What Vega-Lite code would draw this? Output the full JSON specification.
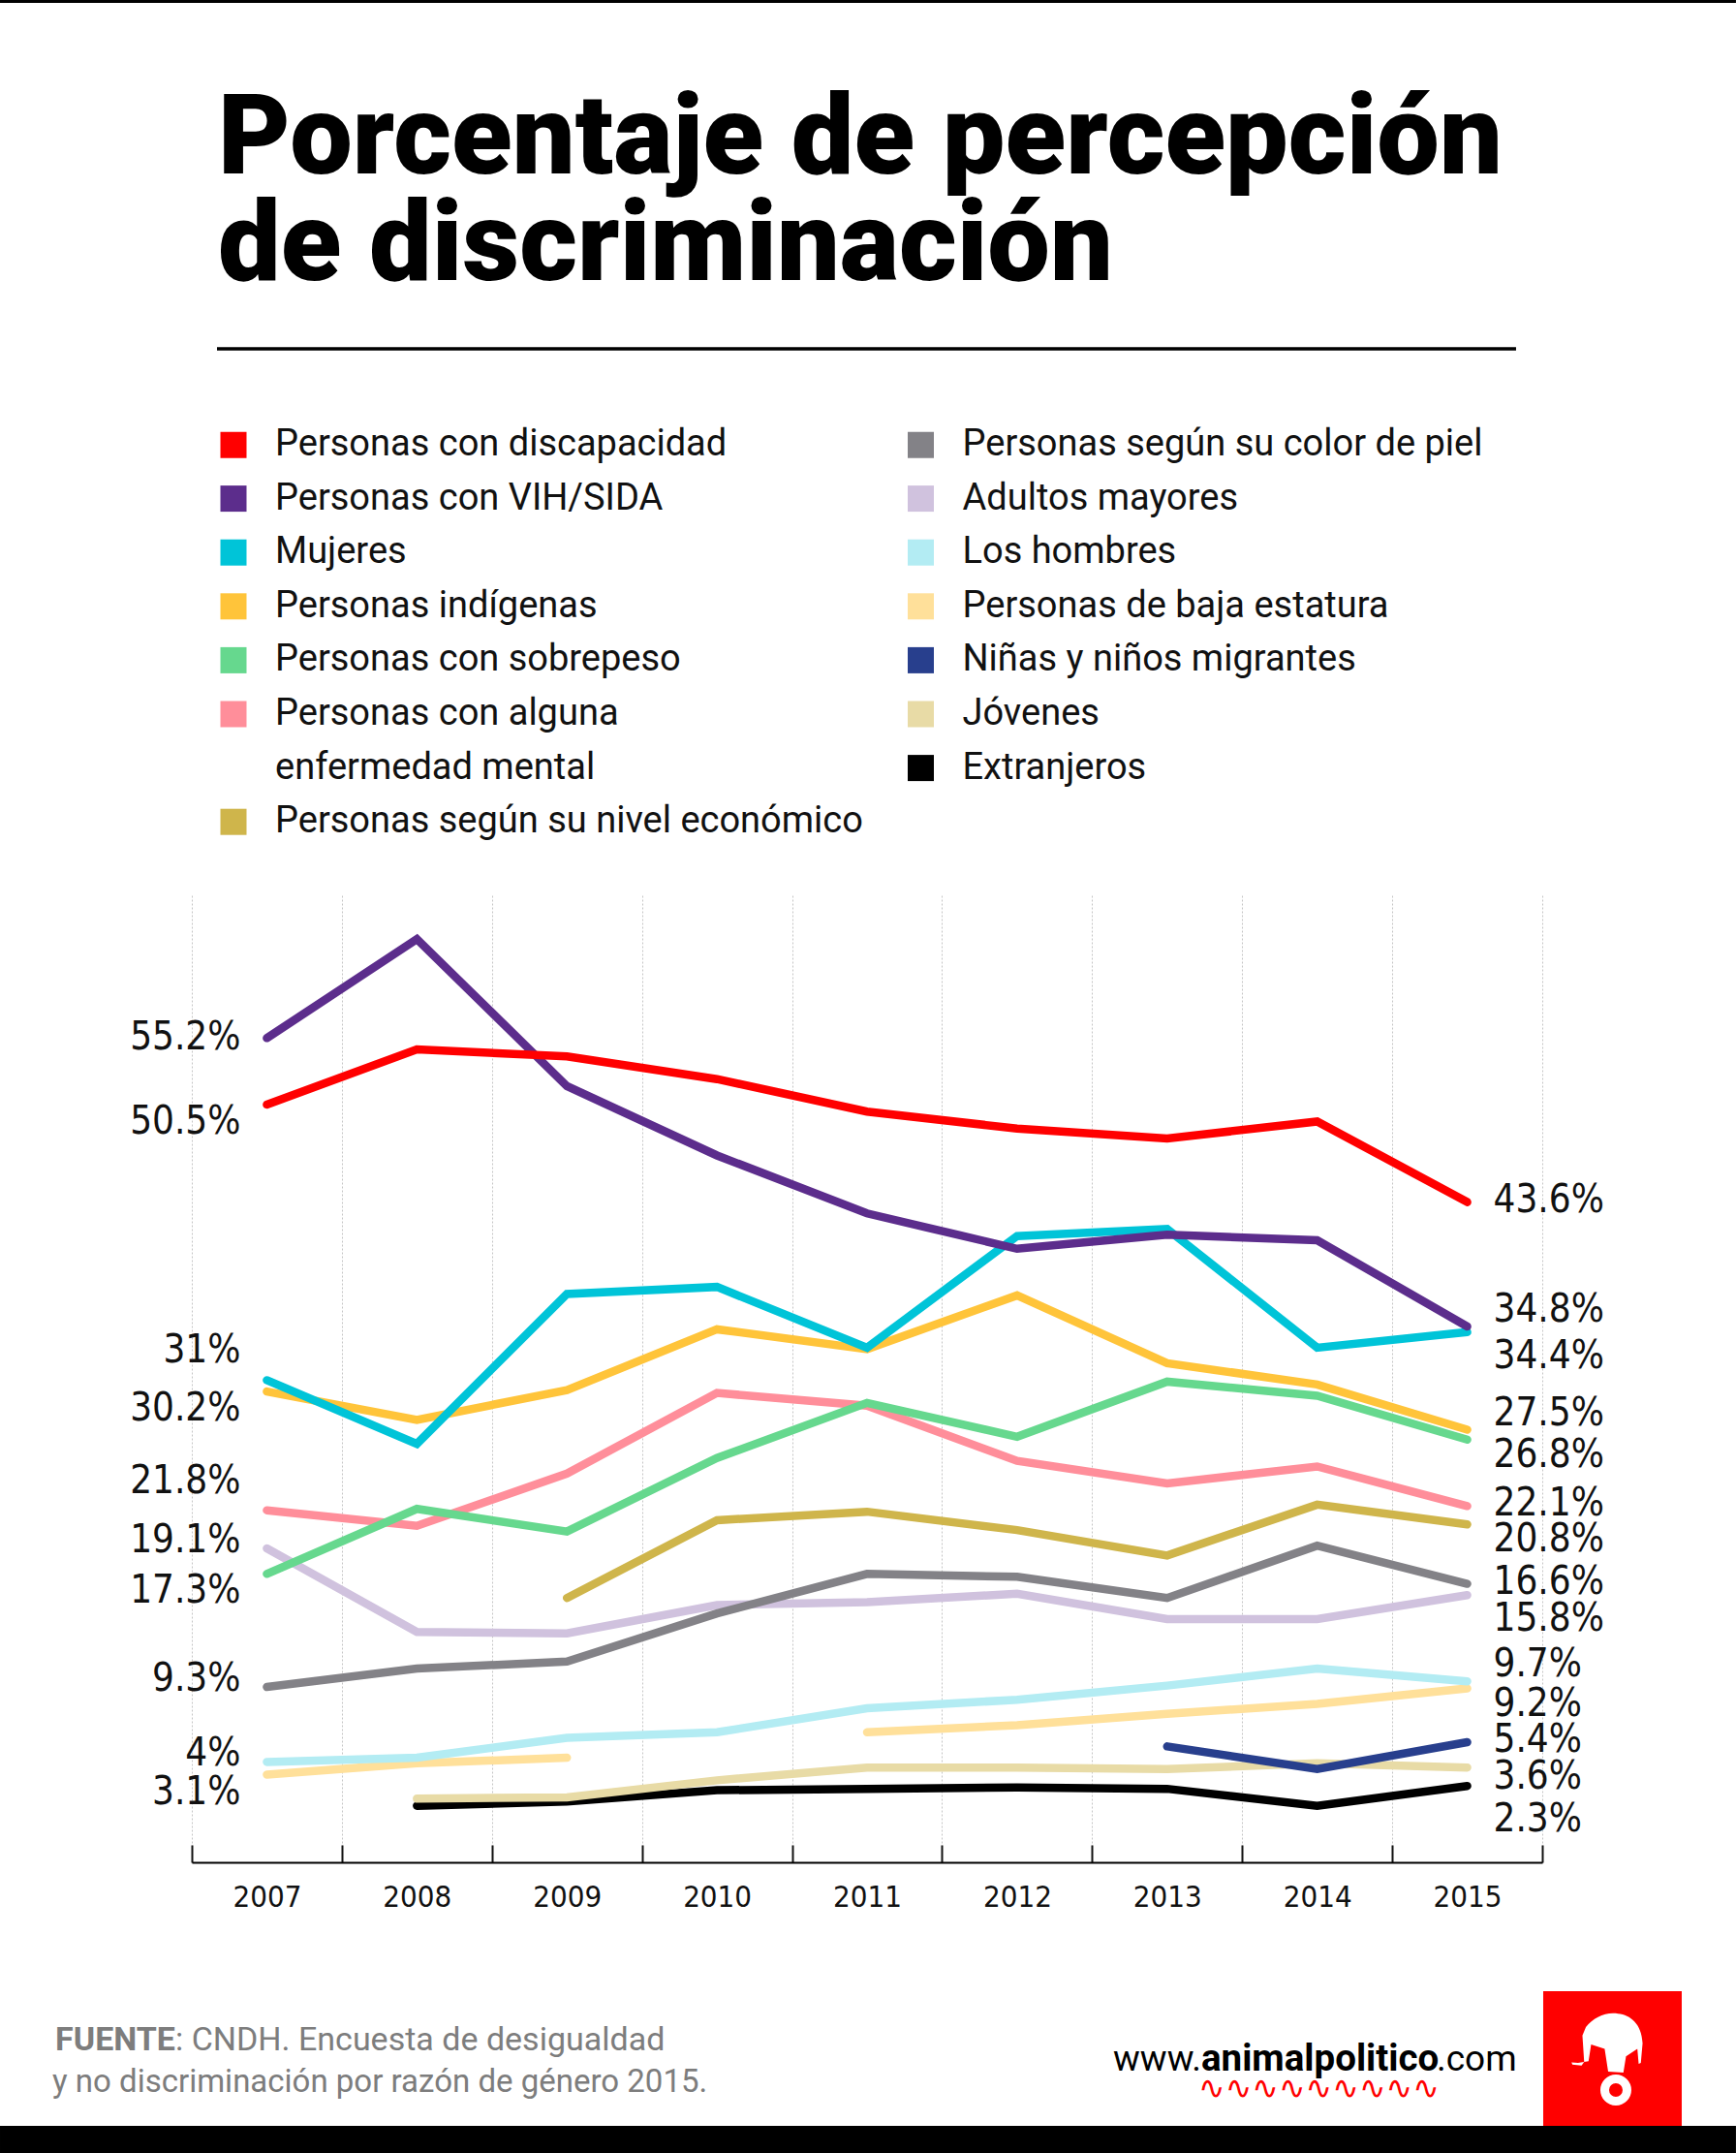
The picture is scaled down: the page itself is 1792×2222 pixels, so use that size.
{
  "$schema": "https://vega.github.io/schema/vega-lite/v6.json",
  "width": 1394,
  "height": 998,
  "autosize": "none",
  "padding": {"left": 198, "top": 924, "right": 200, "bottom": 300},
  "background": "#ffffff",
  "title": {
    "text": ["Porcentaje de percepción", "de discriminación"],
    "anchor": "start",
    "frame": "group",
    "orient": "top",
    "baseline": "top",
    "font": "Roboto",
    "fontSize": 115,
    "fontWeight": 900,
    "color": "#000000",
    "lineHeight": 110,
    "offset": -313,
    "dx": 27
  },
  "datasets": {
    "encuesta": [
      {"serie": "Extranjeros", "anio": 2008, "valor": 0.9},
      {"serie": "Extranjeros", "anio": 2009, "valor": 1.2},
      {"serie": "Extranjeros", "anio": 2010, "valor": 2.0},
      {"serie": "Extranjeros", "anio": 2011, "valor": 2.1},
      {"serie": "Extranjeros", "anio": 2012, "valor": 2.2},
      {"serie": "Extranjeros", "anio": 2013, "valor": 2.1},
      {"serie": "Extranjeros", "anio": 2014, "valor": 0.9},
      {"serie": "Extranjeros", "anio": 2015, "valor": 2.3},
      {"serie": "Jóvenes", "anio": 2008, "valor": 1.4},
      {"serie": "Jóvenes", "anio": 2009, "valor": 1.5},
      {"serie": "Jóvenes", "anio": 2010, "valor": 2.7},
      {"serie": "Jóvenes", "anio": 2011, "valor": 3.6},
      {"serie": "Jóvenes", "anio": 2012, "valor": 3.6},
      {"serie": "Jóvenes", "anio": 2013, "valor": 3.5},
      {"serie": "Jóvenes", "anio": 2014, "valor": 3.9},
      {"serie": "Jóvenes", "anio": 2015, "valor": 3.6},
      {"serie": "Niñas y niños migrantes", "anio": 2013, "valor": 5.1},
      {"serie": "Niñas y niños migrantes", "anio": 2014, "valor": 3.5},
      {"serie": "Niñas y niños migrantes", "anio": 2015, "valor": 5.4},
      {"serie": "Personas de baja estatura", "anio": 2007, "valor": 3.1, "tramo": 1},
      {"serie": "Personas de baja estatura", "anio": 2008, "valor": 3.9, "tramo": 1},
      {"serie": "Personas de baja estatura", "anio": 2009, "valor": 4.3, "tramo": 1},
      {"serie": "Personas de baja estatura", "anio": 2011, "valor": 6.1, "tramo": 2},
      {"serie": "Personas de baja estatura", "anio": 2012, "valor": 6.6, "tramo": 2},
      {"serie": "Personas de baja estatura", "anio": 2013, "valor": 7.4, "tramo": 2},
      {"serie": "Personas de baja estatura", "anio": 2014, "valor": 8.1, "tramo": 2},
      {"serie": "Personas de baja estatura", "anio": 2015, "valor": 9.2, "tramo": 2},
      {"serie": "Los hombres", "anio": 2007, "valor": 4.0},
      {"serie": "Los hombres", "anio": 2008, "valor": 4.3},
      {"serie": "Los hombres", "anio": 2009, "valor": 5.7},
      {"serie": "Los hombres", "anio": 2010, "valor": 6.1},
      {"serie": "Los hombres", "anio": 2011, "valor": 7.8},
      {"serie": "Los hombres", "anio": 2012, "valor": 8.4},
      {"serie": "Los hombres", "anio": 2013, "valor": 9.4},
      {"serie": "Los hombres", "anio": 2014, "valor": 10.6},
      {"serie": "Los hombres", "anio": 2015, "valor": 9.7},
      {"serie": "Adultos mayores", "anio": 2007, "valor": 19.1},
      {"serie": "Adultos mayores", "anio": 2008, "valor": 13.2},
      {"serie": "Adultos mayores", "anio": 2009, "valor": 13.1},
      {"serie": "Adultos mayores", "anio": 2010, "valor": 15.1},
      {"serie": "Adultos mayores", "anio": 2011, "valor": 15.3},
      {"serie": "Adultos mayores", "anio": 2012, "valor": 15.9},
      {"serie": "Adultos mayores", "anio": 2013, "valor": 14.1},
      {"serie": "Adultos mayores", "anio": 2014, "valor": 14.1},
      {"serie": "Adultos mayores", "anio": 2015, "valor": 15.8},
      {"serie": "Personas según su color de piel", "anio": 2007, "valor": 9.3},
      {"serie": "Personas según su color de piel", "anio": 2008, "valor": 10.6},
      {"serie": "Personas según su color de piel", "anio": 2009, "valor": 11.1},
      {"serie": "Personas según su color de piel", "anio": 2010, "valor": 14.5},
      {"serie": "Personas según su color de piel", "anio": 2011, "valor": 17.3},
      {"serie": "Personas según su color de piel", "anio": 2012, "valor": 17.1},
      {"serie": "Personas según su color de piel", "anio": 2013, "valor": 15.6},
      {"serie": "Personas según su color de piel", "anio": 2014, "valor": 19.3},
      {"serie": "Personas según su color de piel", "anio": 2015, "valor": 16.6},
      {"serie": "Personas según su nivel económico", "anio": 2009, "valor": 15.6},
      {"serie": "Personas según su nivel económico", "anio": 2010, "valor": 21.1},
      {"serie": "Personas según su nivel económico", "anio": 2011, "valor": 21.7},
      {"serie": "Personas según su nivel económico", "anio": 2012, "valor": 20.4},
      {"serie": "Personas según su nivel económico", "anio": 2013, "valor": 18.6},
      {"serie": "Personas según su nivel económico", "anio": 2014, "valor": 22.2},
      {"serie": "Personas según su nivel económico", "anio": 2015, "valor": 20.8},
      {"serie": "Personas con alguna enfermedad mental", "anio": 2007, "valor": 21.8},
      {"serie": "Personas con alguna enfermedad mental", "anio": 2008, "valor": 20.7},
      {"serie": "Personas con alguna enfermedad mental", "anio": 2009, "valor": 24.4},
      {"serie": "Personas con alguna enfermedad mental", "anio": 2010, "valor": 30.1},
      {"serie": "Personas con alguna enfermedad mental", "anio": 2011, "valor": 29.2},
      {"serie": "Personas con alguna enfermedad mental", "anio": 2012, "valor": 25.3},
      {"serie": "Personas con alguna enfermedad mental", "anio": 2013, "valor": 23.7},
      {"serie": "Personas con alguna enfermedad mental", "anio": 2014, "valor": 24.9},
      {"serie": "Personas con alguna enfermedad mental", "anio": 2015, "valor": 22.1},
      {"serie": "Personas con sobrepeso", "anio": 2007, "valor": 17.3},
      {"serie": "Personas con sobrepeso", "anio": 2008, "valor": 21.9},
      {"serie": "Personas con sobrepeso", "anio": 2009, "valor": 20.3},
      {"serie": "Personas con sobrepeso", "anio": 2010, "valor": 25.5},
      {"serie": "Personas con sobrepeso", "anio": 2011, "valor": 29.4},
      {"serie": "Personas con sobrepeso", "anio": 2012, "valor": 27.0},
      {"serie": "Personas con sobrepeso", "anio": 2013, "valor": 30.9},
      {"serie": "Personas con sobrepeso", "anio": 2014, "valor": 29.9},
      {"serie": "Personas con sobrepeso", "anio": 2015, "valor": 26.8},
      {"serie": "Personas indígenas", "anio": 2007, "valor": 30.2},
      {"serie": "Personas indígenas", "anio": 2008, "valor": 28.2},
      {"serie": "Personas indígenas", "anio": 2009, "valor": 30.3},
      {"serie": "Personas indígenas", "anio": 2010, "valor": 34.6},
      {"serie": "Personas indígenas", "anio": 2011, "valor": 33.2},
      {"serie": "Personas indígenas", "anio": 2012, "valor": 37.0},
      {"serie": "Personas indígenas", "anio": 2013, "valor": 32.2},
      {"serie": "Personas indígenas", "anio": 2014, "valor": 30.7},
      {"serie": "Personas indígenas", "anio": 2015, "valor": 27.5},
      {"serie": "Mujeres", "anio": 2007, "valor": 31},
      {"serie": "Mujeres", "anio": 2008, "valor": 26.5},
      {"serie": "Mujeres", "anio": 2009, "valor": 37.1},
      {"serie": "Mujeres", "anio": 2010, "valor": 37.6},
      {"serie": "Mujeres", "anio": 2011, "valor": 33.3},
      {"serie": "Mujeres", "anio": 2012, "valor": 41.2},
      {"serie": "Mujeres", "anio": 2013, "valor": 41.7},
      {"serie": "Mujeres", "anio": 2014, "valor": 33.3},
      {"serie": "Mujeres", "anio": 2015, "valor": 34.4},
      {"serie": "Personas con VIH/SIDA", "anio": 2007, "valor": 55.2},
      {"serie": "Personas con VIH/SIDA", "anio": 2008, "valor": 62.2},
      {"serie": "Personas con VIH/SIDA", "anio": 2009, "valor": 51.8},
      {"serie": "Personas con VIH/SIDA", "anio": 2010, "valor": 46.9},
      {"serie": "Personas con VIH/SIDA", "anio": 2011, "valor": 42.8},
      {"serie": "Personas con VIH/SIDA", "anio": 2012, "valor": 40.3},
      {"serie": "Personas con VIH/SIDA", "anio": 2013, "valor": 41.3},
      {"serie": "Personas con VIH/SIDA", "anio": 2014, "valor": 40.9},
      {"serie": "Personas con VIH/SIDA", "anio": 2015, "valor": 34.8},
      {"serie": "Personas con discapacidad", "anio": 2007, "valor": 50.5},
      {"serie": "Personas con discapacidad", "anio": 2008, "valor": 54.4},
      {"serie": "Personas con discapacidad", "anio": 2009, "valor": 53.9},
      {"serie": "Personas con discapacidad", "anio": 2010, "valor": 52.3},
      {"serie": "Personas con discapacidad", "anio": 2011, "valor": 50.0},
      {"serie": "Personas con discapacidad", "anio": 2012, "valor": 48.8},
      {"serie": "Personas con discapacidad", "anio": 2013, "valor": 48.1},
      {"serie": "Personas con discapacidad", "anio": 2014, "valor": 49.3},
      {"serie": "Personas con discapacidad", "anio": 2015, "valor": 43.6}
    ]
  },
  "layer": [
    {
      "data": {"values": [{}]},
      "mark": {"type": "rect", "color": "#000000"},
      "encoding": {
        "x": {"datum": 2005.2217, "type": "quantitative"}, "x2": {"datum": 2016.791},
        "y": {"datum": 128.63, "type": "quantitative"}, "y2": {"datum": 128.42}
      }
    },
    {
      "data": {"values": [{}]},
      "mark": {"type": "rule", "color": "#000000", "strokeWidth": 3.5},
      "encoding": {
        "x": {"datum": 2006.6679, "type": "quantitative"}, "x2": {"datum": 2015.3255},
        "y": {"datum": 103.955, "type": "quantitative"}
      }
    },
    {
      "data": {"name": "encuesta"},
      "encoding": {
        "x": {
          "field": "anio",
          "type": "quantitative",
          "scale": {"domain": [2006.5, 2015.5], "nice": false, "zero": false},
          "axis": {
            "values": [2006.5, 2007.5, 2008.5, 2009.5, 2010.5, 2011.5, 2012.5, 2013.5, 2014.5, 2015.5],
            "title": null,
            "grid": true,
            "gridColor": "#c4c4c4",
            "gridDash": [2, 2],
            "gridWidth": 1,
            "domain": true,
            "domainColor": "#000000",
            "domainWidth": 2,
            "ticks": true,
            "tickSize": -18,
            "tickColor": "#111111",
            "tickWidth": 2,
            "labelExpr": "datum.value < 2015 ? '' + (datum.value + 0.5) : ''",
            "labelOffset": 77.45,
            "labelPadding": 39,
            "labelFont": "DejaVu Sans Condensed, DejaVu Sans, sans-serif",
            "labelFontSize": 31,
            "labelColor": "#111111",
            "labelFlush": false,
            "labelOverlap": false,
            "labelBound": false
          }
        },
        "y": {
          "field": "valor",
          "type": "quantitative",
          "scale": {"domain": [-3.1, 65.3], "nice": false, "zero": false},
          "axis": {"title": null, "labels": false, "ticks": false, "domain": false, "grid": false}
        }
      },
      "layer": [
        {
          "mark": {"type": "line", "strokeWidth": 8.5, "strokeCap": "round", "strokeJoin": "miter"},
          "encoding": {
            "color": {
              "field": "serie",
              "type": "nominal",
              "scale": {
                "domain": [
                  "Personas con discapacidad",
                  "Personas con VIH/SIDA",
                  "Mujeres",
                  "Personas indígenas",
                  "Personas con sobrepeso",
                  "Personas con alguna enfermedad mental",
                  "enfermedad mental",
                  "Personas según su nivel económico",
                  "Personas según su color de piel",
                  "Adultos mayores",
                  "Los hombres",
                  "Personas de baja estatura",
                  "Niñas y niños migrantes",
                  "Jóvenes",
                  "Extranjeros"
                ],
                "range": [
                  "#ff0000",
                  "#5c2d8c",
                  "#00c4d8",
                  "#ffc43a",
                  "#66d88e",
                  "#ff8e9a",
                  "rgba(0,0,0,0)",
                  "#cfb54b",
                  "#838287",
                  "#d0c2de",
                  "#b3ecf3",
                  "#ffe09a",
                  "#283f8d",
                  "#e8dba6",
                  "#000000"
                ]
              },
              "legend": {
                "orient": "none",
                "legendX": 24,
                "legendY": -484,
                "columns": 2,
                "title": null,
                "symbolType": "square",
                "symbolSize": 169,
                "symbolStrokeWidth": 14,
                "symbolOpacity": 1,
                "labelFont": "Roboto",
                "labelFontSize": 38,
                "labelColor": "#111111",
                "labelOffset": 24,
                "labelLimit": 1000,
                "rowPadding": -14.4,
                "columnPadding": 24.5,
                "labelExpr": "datum.label == 'Personas con alguna enfermedad mental' ? 'Personas con alguna' : datum.label"
              }
            },
            "detail": {"field": "tramo"}
          }
        },
        {
          "transform": [
            {"filter": "datum.anio == 2007 && indexof(['Mujeres', 'Personas con alguna enfermedad mental'], datum.serie) >= 0"},
            {"calculate": "format(datum.valor, '.1~f') + '%'", "as": "etiqueta"}
          ],
          "mark": {"type": "text", "align": "right", "baseline": "middle", "dx": -27, "dy": -30, "font": "DejaVu Sans Condensed, DejaVu Sans, sans-serif", "fontSize": 40, "color": "#111111"},
          "encoding": {"text": {"field": "etiqueta"}}
        },
        {
          "transform": [
            {"filter": "datum.anio == 2007 && indexof(['Adultos mayores', 'Los hombres', 'Personas según su color de piel'], datum.serie) >= 0"},
            {"calculate": "format(datum.valor, '.1~f') + '%'", "as": "etiqueta"}
          ],
          "mark": {"type": "text", "align": "right", "baseline": "middle", "dx": -27, "dy": -8, "font": "DejaVu Sans Condensed, DejaVu Sans, sans-serif", "fontSize": 40, "color": "#111111"},
          "encoding": {"text": {"field": "etiqueta"}}
        },
        {
          "transform": [
            {"filter": "datum.anio == 2007 && indexof(['Personas con VIH/SIDA'], datum.serie) >= 0"},
            {"calculate": "format(datum.valor, '.1~f') + '%'", "as": "etiqueta"}
          ],
          "mark": {"type": "text", "align": "right", "baseline": "middle", "dx": -27, "dy": 0, "font": "DejaVu Sans Condensed, DejaVu Sans, sans-serif", "fontSize": 40, "color": "#111111"},
          "encoding": {"text": {"field": "etiqueta"}}
        },
        {
          "transform": [
            {"filter": "datum.anio == 2007 && indexof(['Personas con discapacidad', 'Personas indígenas', 'Personas con sobrepeso', 'Personas de baja estatura'], datum.serie) >= 0"},
            {"calculate": "format(datum.valor, '.1~f') + '%'", "as": "etiqueta"}
          ],
          "mark": {"type": "text", "align": "right", "baseline": "middle", "dx": -27, "dy": 18, "font": "DejaVu Sans Condensed, DejaVu Sans, sans-serif", "fontSize": 40, "color": "#111111"},
          "encoding": {"text": {"field": "etiqueta"}}
        },
        {
          "transform": [
            {"filter": "datum.anio == 2015 && indexof(['Personas con VIH/SIDA', 'Personas indígenas', 'Los hombres'], datum.serie) >= 0"},
            {"calculate": "format(datum.valor, '.1~f') + '%'", "as": "etiqueta"}
          ],
          "mark": {"type": "text", "align": "left", "baseline": "middle", "dx": 27, "dy": -17, "font": "DejaVu Sans Condensed, DejaVu Sans, sans-serif", "fontSize": 40, "color": "#111111"},
          "encoding": {"text": {"field": "etiqueta"}}
        },
        {
          "transform": [
            {"filter": "datum.anio == 2015 && indexof(['Personas con discapacidad', 'Personas con alguna enfermedad mental', 'Personas según su color de piel', 'Niñas y niños migrantes'], datum.serie) >= 0"},
            {"calculate": "format(datum.valor, '.1~f') + '%'", "as": "etiqueta"}
          ],
          "mark": {"type": "text", "align": "left", "baseline": "middle", "dx": 27, "dy": -2, "font": "DejaVu Sans Condensed, DejaVu Sans, sans-serif", "fontSize": 40, "color": "#111111"},
          "encoding": {"text": {"field": "etiqueta"}}
        },
        {
          "transform": [
            {"filter": "datum.anio == 2015 && indexof(['Jóvenes'], datum.serie) >= 0"},
            {"calculate": "format(datum.valor, '.1~f') + '%'", "as": "etiqueta"}
          ],
          "mark": {"type": "text", "align": "left", "baseline": "middle", "dx": 27, "dy": 10, "font": "DejaVu Sans Condensed, DejaVu Sans, sans-serif", "fontSize": 40, "color": "#111111"},
          "encoding": {"text": {"field": "etiqueta"}}
        },
        {
          "transform": [
            {"filter": "datum.anio == 2015 && indexof(['Personas con sobrepeso', 'Personas según su nivel económico', 'Personas de baja estatura'], datum.serie) >= 0"},
            {"calculate": "format(datum.valor, '.1~f') + '%'", "as": "etiqueta"}
          ],
          "mark": {"type": "text", "align": "left", "baseline": "middle", "dx": 27, "dy": 16, "font": "DejaVu Sans Condensed, DejaVu Sans, sans-serif", "fontSize": 40, "color": "#111111"},
          "encoding": {"text": {"field": "etiqueta"}}
        },
        {
          "transform": [
            {"filter": "datum.anio == 2015 && indexof(['Mujeres', 'Adultos mayores'], datum.serie) >= 0"},
            {"calculate": "format(datum.valor, '.1~f') + '%'", "as": "etiqueta"}
          ],
          "mark": {"type": "text", "align": "left", "baseline": "middle", "dx": 27, "dy": 25, "font": "DejaVu Sans Condensed, DejaVu Sans, sans-serif", "fontSize": 40, "color": "#111111"},
          "encoding": {"text": {"field": "etiqueta"}}
        },
        {
          "transform": [
            {"filter": "datum.anio == 2015 && indexof(['Extranjeros'], datum.serie) >= 0"},
            {"calculate": "format(datum.valor, '.1~f') + '%'", "as": "etiqueta"}
          ],
          "mark": {"type": "text", "align": "left", "baseline": "middle", "dx": 27, "dy": 35, "font": "DejaVu Sans Condensed, DejaVu Sans, sans-serif", "fontSize": 40, "color": "#111111"},
          "encoding": {"text": {"field": "etiqueta"}}
        }
      ]
    },
    {
      "data": {"values": [{}]},
      "mark": {"type": "text", "text": "FUENTE", "align": "right", "baseline": "alphabetic", "font": "Roboto", "fontSize": 34, "fontWeight": "bold", "color": "#7d7d7d"},
      "encoding": {"x": {"datum": 2006.39, "type": "quantitative"}, "y": {"datum": -16.40, "type": "quantitative"}}
    },
    {
      "data": {"values": [{}]},
      "mark": {"type": "text", "text": ": CNDH. Encuesta de desigualdad", "align": "left", "baseline": "alphabetic", "font": "Roboto", "fontSize": 34, "color": "#7d7d7d"},
      "encoding": {"x": {"datum": 2006.39, "type": "quantitative"}, "y": {"datum": -16.40, "type": "quantitative"}}
    },
    {
      "data": {"values": [{}]},
      "mark": {"type": "text", "text": "y no discriminación por razón de género 2015.", "align": "left", "baseline": "alphabetic", "font": "Roboto", "fontSize": 33, "color": "#7d7d7d"},
      "encoding": {"x": {"datum": 2005.5703, "type": "quantitative"}, "y": {"datum": -19.31, "type": "quantitative"}}
    },
    {
      "data": {"values": [{}]},
      "mark": {"type": "text", "text": "www.", "align": "right", "baseline": "alphabetic", "font": "Roboto", "fontSize": 37, "color": "#000000"},
      "encoding": {"x": {"datum": 2013.2273, "type": "quantitative"}, "y": {"datum": -17.84, "type": "quantitative"}}
    },
    {
      "data": {"values": [{}]},
      "mark": {"type": "text", "text": "animalpolitico", "align": "left", "baseline": "alphabetic", "font": "Roboto", "fontSize": 38.5, "fontWeight": "bold", "color": "#000000"},
      "encoding": {"x": {"datum": 2013.2273, "type": "quantitative"}, "y": {"datum": -17.84, "type": "quantitative"}}
    },
    {
      "data": {"values": [{}]},
      "mark": {"type": "text", "text": ".com", "align": "left", "baseline": "alphabetic", "font": "Roboto", "fontSize": 37, "color": "#000000"},
      "encoding": {"x": {"datum": 2014.7962, "type": "quantitative"}, "y": {"datum": -17.84, "type": "quantitative"}}
    },
    {
      "data": {"values": [{}]},
      "mark": {"type": "text", "text": "∿∿∿∿∿∿∿∿∿", "align": "left", "baseline": "middle", "font": "DejaVu Sans", "fontSize": 33, "color": "#ff0000"},
      "encoding": {"x": {"datum": 2013.208, "type": "quantitative"}, "y": {"datum": -19.14, "type": "quantitative"}}
    },
    {
      "data": {"values": [{}]},
      "mark": {"type": "rect", "color": "#ff0000"},
      "encoding": {
        "x": {"datum": 2015.5064, "type": "quantitative"}, "x2": {"datum": 2016.4296},
        "y": {"datum": -12.215, "type": "quantitative"}, "y2": {"datum": -21.74}
      }
    },
    {
      "data": {"values": [{}]},
      "mark": {
        "type": "point",
        "shape": "M -0.11 0.40 L -0.19 -0.12 L -0.50 -0.22 L -0.56 0.16 L -0.80 0.20 L -0.95 0.19 L -0.93 0.24 L -0.72 0.26 L -0.66 0.18 L -0.70 -0.43 L -0.62 -0.62 C -0.45 -0.85 -0.15 -0.98 0.12 -0.93 C 0.40 -0.90 0.66 -0.70 0.68 -0.25 L 0.64 0.20 L 0.59 0.22 L 0.56 -0.12 L 0.30 0.05 L 0.24 0.42 Z",
        "filled": true,
        "color": "#ffffff",
        "opacity": 1,
        "size": 8100,
        "strokeWidth": 0
      },
      "encoding": {"x": {"datum": 2015.9711, "type": "quantitative"}, "y": {"datum": -16.67, "type": "quantitative"}}
    },
    {
      "data": {"values": [{}]},
      "mark": {"type": "point", "shape": "circle", "filled": false, "color": "#ffffff", "opacity": 1, "size": 529, "strokeWidth": 9},
      "encoding": {"x": {"datum": 2015.9905, "type": "quantitative"}, "y": {"datum": -19.207, "type": "quantitative"}}
    },
    {
      "data": {"values": [{}]},
      "mark": {"type": "rect", "color": "#000000"},
      "encoding": {
        "x": {"datum": 2005.2217, "type": "quantitative"}, "x2": {"datum": 2016.791},
        "y": {"datum": -21.74, "type": "quantitative"}, "y2": {"datum": -23.66}
      }
    }
  ],
  "config": {
    "view": {"stroke": null}
  }
}
